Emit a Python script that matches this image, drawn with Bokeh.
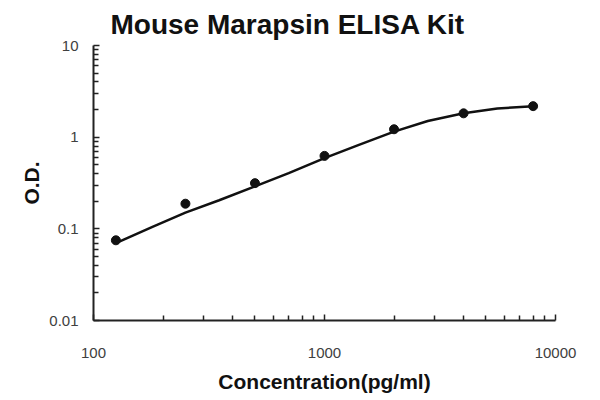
from bokeh.plotting import figure
from bokeh.models import FixedTicker, CustomJSTickFormatter, Range1d
from bokeh.embed import file_html
from bokeh.resources import INLINE

# Data
conc = [125, 250, 500, 1000, 2000, 4000, 8000]
od = [0.075, 0.188, 0.315, 0.625, 1.22, 1.82, 2.18]

# fitted curve
curve_x = [125, 180, 250, 350, 500, 700, 1000, 1400, 2000, 2800, 4000, 5600, 8000]
curve_y = [0.070, 0.105, 0.150, 0.205, 0.290, 0.405, 0.590, 0.820, 1.15, 1.50, 1.82, 2.05, 2.18]

x_ticks = [100, 1000, 10000]
x_labels = ["100", "1000", "10000"]
y_ticks = [0.01, 0.1, 1, 10]
y_labels = ["0.01", "0.1", "1", "10"]

title = "Mouse Marapsin ELISA Kit"
x_title = "Concentration(pg/ml)"
y_title = "O.D."

p = figure(width=600, height=400, x_axis_type="log", y_axis_type="log",
           x_range=Range1d(x_ticks[0], x_ticks[-1]),
           y_range=Range1d(y_ticks[0], y_ticks[-1]),
           output_backend="svg", toolbar_location=None,
           min_border_left=93, min_border_right=45,
           min_border_top=45, min_border_bottom=80)

p.title.text = title
p.title.text_font = "Liberation Sans"
p.title.text_font_size = "28px"
p.title.text_font_style = "bold"
p.title.text_color = "#111111"
p.title.align = "left"
p.title.offset = 17
p.title.standoff = 12

p.outline_line_color = None
p.xgrid.visible = False
p.ygrid.visible = False
p.background_fill_color = "white"
p.border_fill_color = "white"

def minors(ticks):
    out = []
    for t in ticks[:-1]:
        for m in range(2, 10):
            out.append(t * m)
    return out

p.xaxis.ticker = FixedTicker(ticks=x_ticks, minor_ticks=minors(x_ticks))
p.yaxis.ticker = FixedTicker(ticks=y_ticks, minor_ticks=minors(y_ticks))

fmt_code = """
for (let i = 0; i < vals.length; i++) {
  if (Math.abs(vals[i] - tick) <= 1e-9 * Math.abs(vals[i])) return labs[i];
}
return '';
"""
p.xaxis.formatter = CustomJSTickFormatter(args=dict(vals=x_ticks, labs=x_labels), code=fmt_code)
p.yaxis.formatter = CustomJSTickFormatter(args=dict(vals=y_ticks, labs=y_labels), code=fmt_code)

for ax in (p.xaxis, p.yaxis):
    ax.axis_line_color = "#222222"
    ax.axis_line_width = 2
    ax.major_tick_line_color = "#222222"
    ax.minor_tick_line_color = "#222222"
    ax.major_tick_line_width = 1.5
    ax.minor_tick_line_width = 1.5
    ax.major_tick_in = 6
    ax.major_tick_out = 0
    ax.minor_tick_in = 5
    ax.minor_tick_out = 0
    ax.major_label_text_font = "Liberation Sans"
    ax.major_label_text_font_size = "15px"
    ax.major_label_text_color = "#404040"
    ax.axis_label_text_font = "Liberation Sans"
    ax.axis_label_text_font_size = "21px"
    ax.axis_label_text_font_style = "bold"
    ax.axis_label_text_color = "#111111"

p.xaxis.axis_label = x_title
p.yaxis.axis_label = y_title
p.xaxis.major_label_standoff = 27
p.yaxis.major_label_standoff = 15
p.xaxis.axis_label_standoff = 9
p.yaxis.axis_label_standoff = 3

p.line(curve_x, curve_y, line_color="#111111", line_width=2.5)
p.scatter(conc, od, size=9, color="#111111")

open("out.html", "w").write(file_html(p, INLINE))
